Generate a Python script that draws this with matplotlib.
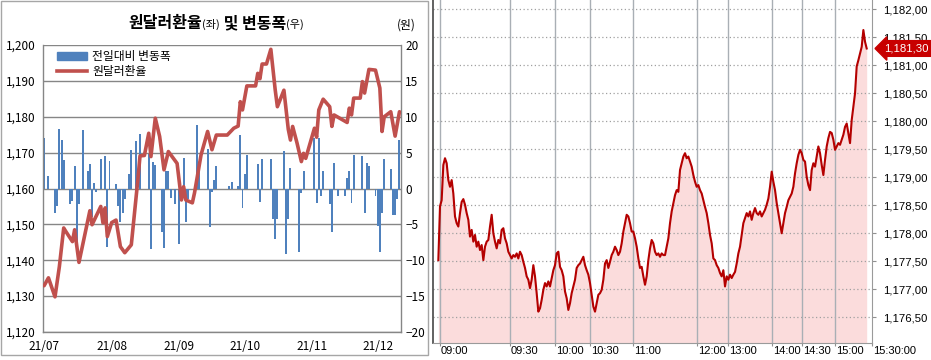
import matplotlib
matplotlib.use("Agg")
import matplotlib.pyplot as plt
import matplotlib.dates as mdates
import matplotlib.transforms as mtransforms
from matplotlib.patches import Patch, Rectangle
from matplotlib.lines import Line2D
import numpy as np

plt.rcParams["font.family"] = ["Noto Sans CJK KR", "DejaVu Sans"]

# ---- left chart: daily won/dollar rate and day-on-day change ----
rate_dates = [
    "2021-07-01", "2021-07-03", "2021-07-06", "2021-07-08", "2021-07-10", "2021-07-11",
    "2021-07-14", "2021-07-15", "2021-07-17", "2021-07-22", "2021-07-23", "2021-07-27",
    "2021-07-28", "2021-07-29", "2021-07-30", "2021-08-01", "2021-08-03", "2021-08-05",
    "2021-08-07", "2021-08-10", "2021-08-13", "2021-08-14", "2021-08-16", "2021-08-18",
    "2021-08-19", "2021-08-21", "2021-08-23", "2021-08-25", "2021-08-27", "2021-08-31",
    "2021-09-02", "2021-09-03", "2021-09-04", "2021-09-07", "2021-09-08", "2021-09-11",
    "2021-09-14", "2021-09-16", "2021-09-18", "2021-09-23", "2021-09-26", "2021-09-28",
    "2021-09-29", "2021-09-30", "2021-10-02", "2021-10-06", "2021-10-07", "2021-10-08",
    "2021-10-09", "2021-10-11", "2021-10-13", "2021-10-15", "2021-10-16", "2021-10-19",
    "2021-10-21", "2021-10-22", "2021-10-23", "2021-10-25", "2021-10-27", "2021-10-28",
    "2021-10-29", "2021-11-02", "2021-11-03", "2021-11-04", "2021-11-06", "2021-11-09",
    "2021-11-10", "2021-11-11", "2021-11-17", "2021-11-18", "2021-11-19", "2021-11-20",
    "2021-11-23", "2021-11-24", "2021-11-25", "2021-11-27", "2021-11-30", "2021-12-02",
    "2021-12-03", "2021-12-04", "2021-12-07", "2021-12-09", "2021-12-11",
]
rate_values = [
    1132.9, 1135.1, 1129.8, 1138.2, 1149.0, 1148.0,
    1145.2, 1148.5, 1139.4, 1153.8, 1149.9, 1155.0,
    1150.4, 1154.6, 1146.6, 1150.5, 1151.2, 1143.8,
    1142.1, 1144.3, 1162.4, 1169.1, 1169.2, 1175.4,
    1168.9, 1179.6, 1174.5, 1165.2, 1170.3, 1167.0,
    1156.8, 1160.5, 1156.8, 1156.0, 1158.8, 1169.4,
    1175.9, 1170.8, 1174.9, 1174.9, 1176.8, 1177.4,
    1184.2, 1181.9, 1188.6, 1188.6, 1192.1, 1190.6,
    1194.7, 1194.7, 1198.8, 1187.5, 1182.8, 1187.4,
    1176.5, 1173.5, 1177.3, 1172.7, 1167.5, 1169.8,
    1168.4, 1176.8, 1174.3, 1181.9, 1184.9, 1182.8,
    1177.3, 1180.5, 1178.4, 1182.4, 1180.5, 1185.2,
    1185.2, 1189.8, 1186.6, 1193.2, 1193.0, 1188.0,
    1175.9, 1180.0, 1181.4, 1174.6, 1181.4,
]

chg_dates = [
    "2021-07-01", "2021-07-03", "2021-07-06", "2021-07-07", "2021-07-08", "2021-07-09",
    "2021-07-10", "2021-07-13", "2021-07-14", "2021-07-15", "2021-07-16", "2021-07-17",
    "2021-07-19", "2021-07-21", "2021-07-22", "2021-07-23", "2021-07-24", "2021-07-25",
    "2021-07-27", "2021-07-29", "2021-07-30", "2021-07-31", "2021-08-03", "2021-08-04",
    "2021-08-05", "2021-08-06", "2021-08-07", "2021-08-09", "2021-08-10", "2021-08-12",
    "2021-08-14", "2021-08-18", "2021-08-19", "2021-08-20", "2021-08-21", "2021-08-24",
    "2021-08-25", "2021-08-26", "2021-08-27", "2021-08-28", "2021-08-30", "2021-09-01",
    "2021-09-03", "2021-09-04", "2021-09-05", "2021-09-09", "2021-09-10", "2021-09-14",
    "2021-09-15", "2021-09-16", "2021-09-17", "2021-09-18", "2021-09-24", "2021-09-25",
    "2021-09-28", "2021-09-29", "2021-09-30", "2021-10-01", "2021-10-02", "2021-10-07",
    "2021-10-08", "2021-10-09", "2021-10-13", "2021-10-14", "2021-10-15", "2021-10-16",
    "2021-10-19", "2021-10-20", "2021-10-21", "2021-10-22", "2021-10-26", "2021-10-27",
    "2021-10-28", "2021-11-02", "2021-11-03", "2021-11-04", "2021-11-05", "2021-11-06",
    "2021-11-09", "2021-11-10", "2021-11-11", "2021-11-13", "2021-11-16", "2021-11-17",
    "2021-11-18", "2021-11-19", "2021-11-20", "2021-11-24", "2021-11-25", "2021-11-26",
    "2021-11-27", "2021-11-30", "2021-12-01", "2021-12-02", "2021-12-03", "2021-12-04",
    "2021-12-07", "2021-12-08", "2021-12-09", "2021-12-10", "2021-12-11",
]
chg_values = [
    7.0, 1.8, -3.4, -2.4, 8.3, 6.8,
    4.0, -2.2, -1.8, 3.1, -8.4, -2.1,
    8.2, 2.5, 3.4, -4.0, 0.8, -0.5,
    4.1, 4.5, -8.2, 3.8, 0.6, -2.5,
    -4.7, -3.4, -1.5, 2.0, 5.4, 6.6,
    7.6, 4.8, -8.4, 3.7, 3.3, -6.1,
    -8.3, 2.4, 2.4, -1.3, -2.2, -7.7,
    4.2, -4.7, -1.5, 8.8, 2.5, 5.5,
    -5.4, -0.5, 1.2, 3.1, 0.4, 0.9,
    0.3, 7.5, -2.7, 2.0, 4.6, 3.4,
    -1.9, 4.1, 4.1, -4.3, -7.1, -4.3,
    5.2, -9.1, -4.3, 2.9, -8.8, -0.6,
    2.4, 7.1, -2.0, 7.1, -1.0, 2.5,
    -2.2, -6.1, 3.5, -1.1, -1.1, 1.4,
    2.5, -2.0, 4.7, 4.5, -3.4, 3.5,
    3.1, -1.0, -5.2, -8.9, -3.4, 4.1,
    2.7, -3.7, -3.7, -1.5, 6.7,
]

month_ticks = ["2021-07-01", "2021-08-01", "2021-09-01", "2021-10-01", "2021-11-01", "2021-12-01"]
month_labels = ["21/07", "21/08", "21/09", "21/10", "21/11", "21/12"]

# ---- right chart: intraday ticks ----
intraday = [
    1177.52, 1178.48, 1178.59, 1179.22, 1179.34, 1179.25, 1178.95, 1178.83, 1178.95, 1178.71,
    1178.30, 1178.18, 1178.12, 1178.36, 1178.56, 1178.61, 1178.51, 1178.36, 1178.24, 1177.94,
    1178.06, 1177.85, 1177.97, 1177.76, 1177.85, 1177.70, 1177.79, 1177.52, 1177.76, 1177.85,
    1177.88, 1178.12, 1178.33, 1178.00, 1177.85, 1177.73, 1177.88, 1177.82, 1178.06, 1178.09,
    1177.91, 1177.82, 1177.67, 1177.61, 1177.55, 1177.61, 1177.58, 1177.64, 1177.55, 1177.67,
    1177.61, 1177.49, 1177.38, 1177.23, 1177.17, 1177.02, 1177.17, 1177.43, 1177.23, 1176.93,
    1176.60, 1176.66, 1176.81, 1176.99, 1177.11, 1177.05, 1177.14, 1177.05, 1177.20, 1177.34,
    1177.43, 1177.64, 1177.67, 1177.40, 1177.34, 1177.23, 1176.96, 1176.84, 1176.63, 1176.75,
    1176.93, 1177.05, 1177.17, 1177.38, 1177.43, 1177.46, 1177.52, 1177.58, 1177.43, 1177.34,
    1177.26, 1177.11, 1176.90, 1176.69, 1176.60, 1176.75, 1176.90, 1176.93, 1176.99, 1177.17,
    1177.46, 1177.52, 1177.38, 1177.49, 1177.61, 1177.67, 1177.76, 1177.70, 1177.61, 1177.67,
    1177.82, 1178.03, 1178.18, 1178.33, 1178.30, 1178.18, 1178.03, 1178.03, 1177.91, 1177.76,
    1177.55, 1177.38, 1177.40, 1177.23, 1177.08, 1177.23, 1177.52, 1177.73, 1177.88, 1177.82,
    1177.67, 1177.61, 1177.64, 1177.58, 1177.64, 1177.61, 1177.61, 1177.76, 1177.91, 1178.18,
    1178.39, 1178.54, 1178.68, 1178.77, 1178.74,
    1179.13, 1179.25, 1179.37, 1179.43, 1179.34, 1179.37, 1179.28, 1179.19, 1179.04, 1178.92,
    1178.83, 1178.86, 1178.77, 1178.71, 1178.59, 1178.47, 1178.36, 1178.18, 1177.97, 1177.82,
    1177.55, 1177.52, 1177.43, 1177.38, 1177.29, 1177.23, 1177.34, 1177.05, 1177.23, 1177.17,
    1177.26, 1177.20, 1177.26, 1177.31, 1177.46, 1177.64, 1177.76, 1177.97, 1178.18, 1178.27,
    1178.36, 1178.30, 1178.39, 1178.24, 1178.36, 1178.45, 1178.36, 1178.33, 1178.39, 1178.30,
    1178.36, 1178.42, 1178.51, 1178.62, 1178.83, 1179.10, 1178.92, 1178.77, 1178.54, 1178.36,
    1178.18, 1178.00, 1178.18, 1178.36, 1178.47, 1178.59, 1178.65, 1178.71, 1178.83, 1179.07,
    1179.25, 1179.40, 1179.49, 1179.43, 1179.31, 1179.28, 1179.01, 1178.86, 1178.77, 1179.13,
    1179.25, 1179.19, 1179.37, 1179.55, 1179.43, 1179.22, 1179.04, 1179.31, 1179.55, 1179.70,
    1179.81, 1179.79, 1179.67, 1179.49, 1179.55, 1179.61, 1179.58, 1179.67, 1179.76, 1179.90,
    1179.96, 1179.79, 1179.61, 1180.02, 1180.26, 1180.50, 1180.98, 1181.09, 1181.21, 1181.33,
    1181.63, 1181.42, 1181.30,
]
time_labels = ["09:00", "09:30", "10:00", "10:30", "11:00", "12:00", "13:00",
               "14:00", "14:30", "15:00", "15:30:00"]
time_pos = [1, 43, 70, 91, 117, 155, 174, 200, 218, 238, 260]
price_ticks = [1176.5, 1177.0, 1177.5, 1178.0, 1178.5, 1179.0,
               1179.5, 1180.0, 1180.5, 1181.0, 1181.5, 1182.0]
last_price = 1181.30

W, H = 931, 360
fig = plt.figure(figsize=(W / 100, H / 100), dpi=100)


def px_rect(x0, y0, x1, y1):
    # pixel box (top-left origin) -> figure fraction rect
    return [x0 / W, 1 - y1 / H, (x1 - x0) / W, (y1 - y0) / H]


# left panel frame
fig.patches.append(Rectangle((1 / W, 1 - 355 / H), 427 / W, 354 / H, transform=fig.transFigure,
                             fill=False, ec="#a6a6a6", lw=1))

blue = "#4f81bd"
red = "#c0504d"
grid_c = "#868686"

ax_bar = fig.add_axes(px_rect(43, 45, 401, 332))
ax_line = fig.add_axes(px_rect(43, 45, 401, 332))
ax_line.patch.set_visible(False)

d_chg = np.array(chg_dates, dtype="datetime64[D]")
d_rate = np.array(rate_dates, dtype="datetime64[D]")
ax_bar.bar(d_chg, chg_values, width=0.9, color=blue, zorder=2)
ax_line.plot(d_rate, rate_values, color=red, lw=2.6, solid_joinstyle="round",
             solid_capstyle="round", zorder=3)

x0 = mdates.date2num(np.datetime64("2021-07-01")) - 0.5
x1 = mdates.date2num(np.datetime64("2021-12-11")) + 0.7
for a in (ax_bar, ax_line):
    a.set_xlim(x0, x1)

ax_bar.set_ylim(-20, 20)
ax_bar.set_yticks(range(-20, 21, 5))
ax_bar.yaxis.tick_right()
ax_bar.tick_params(axis="y", length=0, pad=3, labelsize=8.5)
ax_bar.set_xticks([])
ax_bar.yaxis.grid(True, color=grid_c, lw=1)
ax_bar.set_axisbelow(True)
for s in ax_bar.spines.values():
    s.set_visible(False)

ax_line.set_ylim(1120, 1200)
ax_line.set_yticks(range(1120, 1201, 10))
ax_line.set_yticklabels([f"{v:,}" for v in range(1120, 1201, 10)])
ax_line.tick_params(axis="y", length=0, pad=5, labelsize=8.5)
ax_line.set_xticks(mdates.date2num(np.array(month_ticks, dtype="datetime64[D]")))
ax_line.set_xticklabels(month_labels)
ax_line.tick_params(axis="x", length=0, pad=6, labelsize=8.5)
ax_line.spines["top"].set_visible(False)
for k in ("left", "right", "bottom"):
    ax_line.spines[k].set_color(grid_c)
    ax_line.spines[k].set_linewidth(1)

handles = [Patch(color=blue), Line2D([], [], color=red, lw=2.6)]
ax_line.legend(handles, ["전일대비 변동폭", "원달러환율"], loc="upper left",
               bbox_to_anchor=(0.015, 1.01), frameon=False, fontsize=8.5,
               handlelength=2.6, handleheight=0.6, labelspacing=0.15,
               handletextpad=0.4, borderpad=0.2)

# title with small (좌)/(우)
renderer = fig.canvas.get_renderer()
pieces = [("원달러환율", 11.5, "bold"), ("(좌)", 8, "normal"),
          (" 및 변동폭", 11.5, "bold"), ("(우)", 8, "normal")]
xp = 128
for s, size, weight in pieces:
    t = fig.text(xp / W, 1 - 28 / H, s, fontsize=size, fontweight=weight,
                 va="baseline", ha="left")
    bb = t.get_window_extent(renderer)
    xp = bb.x1
fig.text(406 / W, 1 - 25 / H, "(원)", fontsize=8.5, ha="center", va="center")

# ---- right panel ----
ax2 = fig.add_axes(px_rect(433, 0, 871.7, 343))
idx = np.arange(len(intraday))
ymin, ymax = 1176.04, 1182.166
ax2.fill_between(idx, intraday, ymin, color="#fbdcdc", lw=0, zorder=1)
ax2.plot(idx, intraday, color="#b40000", lw=1.5, zorder=3)
ax2.set_xlim(-3.2, 260)
ax2.set_ylim(ymin, ymax)
for v in price_ticks:
    ax2.axhline(v, color="#a0a0a0", lw=0.9, ls=(0, (1, 2)), zorder=2)
for p in time_pos[:-1]:
    ax2.axvline(p, color="#a9afb5", lw=1, zorder=2)

ax2.yaxis.tick_right()
ax2.set_yticks(price_ticks)
ax2.set_yticklabels([f"{v:,.2f}".replace(".", ",") for v in price_ticks],
                    family="Liberation Sans")
ax2.tick_params(axis="y", length=3, pad=5, labelsize=8.2, color="#909090")
ax2.set_xticks(time_pos)
ax2.set_xticklabels(time_labels, family="Liberation Sans", ha="left")
ax2.tick_params(axis="x", length=2, pad=0.5, labelsize=8, color="#909090")
shift = mtransforms.ScaledTranslation(1 / 100, 0, fig.dpi_scale_trans)
for lab in ax2.get_xticklabels():
    lab.set_transform(lab.get_transform() + shift)
ax2.spines["top"].set_visible(False)
ax2.spines["left"].set_color("#555555")
ax2.spines["left"].set_linewidth(1.3)
ax2.spines["right"].set_color("#9a9a9a")
ax2.spines["bottom"].set_color("#9a9a9a")

blend = mtransforms.blended_transform_factory(ax2.transAxes, ax2.transData)
ax2.annotate(f"{last_price:,.2f}".replace(".", ","), xy=(1, last_price), xycoords=blend,
             xytext=(12, 0), textcoords="offset pixels", ha="left", va="center",
             color="white", fontsize=8.2, family="Liberation Sans",
             bbox=dict(boxstyle="larrow,pad=0.25", fc="#c80000", ec="#c80000"),
             annotation_clip=False, zorder=5)

fig.savefig("out.png", dpi=100)
